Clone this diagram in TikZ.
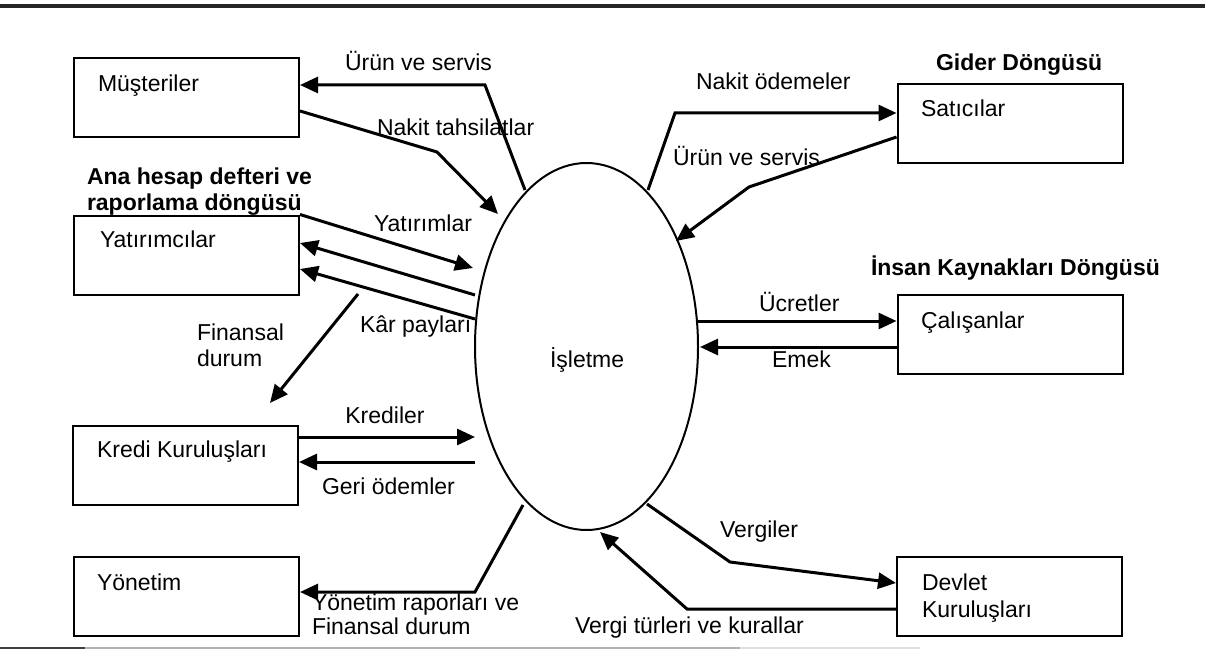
\documentclass[tikz,border=0pt]{standalone}
\usepackage{fontspec}
\setmainfont{Liberation Sans}
\usetikzlibrary{arrows.meta,shapes.geometric}
\begin{document}
\begin{tikzpicture}[x=1pt,y=-1pt,
  font=\fontsize{23}{26}\selectfont,
  box/.style={draw, line width=2pt, minimum width=225pt, minimum height=79pt, inner sep=0pt},
  txt/.style={inner sep=0pt, outer sep=0pt, anchor=base west},
  ctxt/.style={inner sep=0pt, outer sep=0pt, anchor=base},
  bold/.style={font=\fontsize{23}{26}\selectfont\bfseries},
  arr/.style={line width=3pt, -{Triangle[length=18pt,width=16pt]}}]
\useasboundingbox (0,0) rectangle (1205,650);

% page rules
\draw[line width=3.5pt, black!85] (0,6) -- (1205,6);
\draw[line width=2pt, gray!60] (85,648) -- (740,648);
\draw[line width=2pt, gray!25] (740,648) -- (920,648);
\draw[line width=2pt, black!75] (0,648) -- (85,648);

% boxes
\node[box] (mus) at (186.5,97.5) {};
\node[box] (yat) at (186.5,255) {};
\node[box] (kre) at (185.5,465) {};
\node[box] (yon) at (186.5,596.5) {};
\node[box] (sat) at (1010,123.5) {};
\node[box] (cal) at (1010,334) {};
\node[box] (dev) at (1009.5,596.5) {};
\node[ellipse, draw, line width=2pt, minimum width=223pt, minimum height=367pt, inner sep=0pt] (isl) at (586.5,346.5) {};

% box texts
\node[txt] (tmus) at (98,92) {Müşteriler};
\node[txt] (tyat) at (100,247) {Yatırımcılar};
\node[txt] (tkre) at (97,457) {Kredi Kuruluşları};
\node[txt] (tyon) at (97,590) {Yönetim};
\node[txt] (tsat) at (921,117) {Satıcılar};
\node[txt] (tcal) at (921,328) {Çalışanlar};
\node[txt] (tdev1) at (922,590) {Devlet};
\node[txt] (tdev2) at (922,617) {Kuruluşları};
\node[txt] (tisl) at (550,367) {İşletme};

% titles
\node[txt, bold] (ana1) at (87,184) {Ana hesap defteri ve};
\node[txt, bold] (ana2) at (87,210) {raporlama döngüsü};
\node[txt, bold] (gid) at (936,71) {Gider Döngüsü};
\node[txt, bold] (ins) at (871,275) {İnsan Kaynakları Döngüsü};

% coordinates
\coordinate (e1) at (525,190);
\coordinate (b1) at (485,85);
\coordinate (b2) at (437,152);
\coordinate (e2) at (498,214);
\coordinate (e3) at (473,268);
\coordinate (e4) at (475,295);
\coordinate (e5) at (475,319);
\coordinate (f1) at (358,294);
\coordinate (f2) at (270,403);
\coordinate (e6) at (475,437);
\coordinate (e7) at (475,462);
\coordinate (e8) at (523,505);
\coordinate (b8) at (475,592);
\coordinate (e9) at (648,190);
\coordinate (b9) at (675,113);
\coordinate (b10) at (749,187);
\coordinate (e10) at (676,241);
\coordinate (e11) at (698,321);
\coordinate (e12) at (700,347);
\coordinate (e13) at (647,504);
\coordinate (b13) at (730,562);
\coordinate (b14) at (687,609);
\coordinate (e14) at (600,532);

% connectors
\draw[arr] (e1) -- (b1) -- ([yshift=12.5pt]mus.east);
\draw[arr] ([yshift=-13.5pt]mus.east) -- (b2) -- (e2);
\draw[arr] (yat.north east) -- (e3);
\draw[arr] (e4) -- ([yshift=12pt]yat.east);
\draw[arr] (e5) -- ([yshift=-14pt]yat.east);
\draw[arr] (f1) -- (f2);
\draw[arr] ([yshift=28pt]kre.east) -- (e6);
\draw[arr] (e7) -- ([yshift=3pt]kre.east);
\draw[arr] (e8) -- (b8) -- ([yshift=4.5pt]yon.east);
\draw[arr] (e9) -- (b9) -- ([yshift=10.5pt]sat.west);
\draw[arr] ([yshift=-13.5pt]sat.west) -- (b10) -- (e10);
\draw[arr] (e11) -- ([yshift=13pt]cal.west);
\draw[arr] ([yshift=-13pt]cal.west) -- (e12);
\draw[arr] (e13) -- (b13) -- ([yshift=13.5pt]dev.west);
\draw[arr] ([yshift=-12.5pt]dev.west) -- (b14) -- (e14);

% connector labels
\node[txt] (l1) at (345,71) {Ürün ve servis};
\node[txt] (l2) at (377,136) {Nakit tahsilatlar};
\node[ctxt] (l3) at (423,231) {Yatırımlar};
\node[txt] (l4) at (360,332) {Kâr payları};
\node[txt] (l5a) at (197,340) {Finansal};
\node[txt] (l5b) at (197,366) {durum};
\node[ctxt] (l6) at (385,423) {Krediler};
\node[txt] (l7) at (322,494) {Geri ödemler};
\node[txt] (l8a) at (312,610) {Yönetim raporları ve};
\node[txt] (l8b) at (312,634) {Finansal durum};
\node[txt] (l9) at (696,90) {Nakit ödemeler};
\node[txt] (l10) at (673,165) {Ürün ve servis};
\node[txt] (l11) at (759,311) {Ücretler};
\node[txt] (l12) at (772,367) {Emek};
\node[txt] (l13) at (720,537) {Vergiler};
\node[txt] (l14) at (575,633) {Vergi türleri ve kurallar};
\end{tikzpicture}
\end{document}
